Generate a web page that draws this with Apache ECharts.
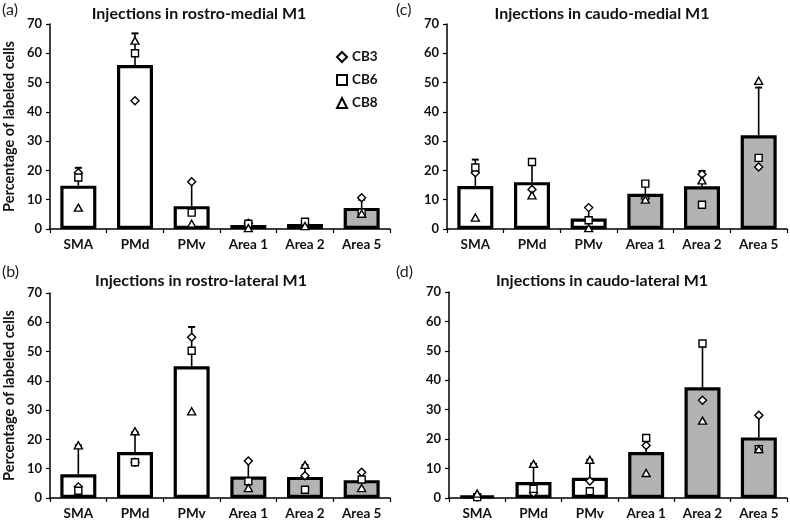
<!DOCTYPE html>
<html>
<head>
<meta charset="utf-8">
<script src="https://cdn.jsdelivr.net/npm/echarts@6/dist/echarts.min.js"></script>
<style>html,body{margin:0;padding:0;background:#fff;}#c{width:790px;height:522px;}</style>
</head>
<body>
<div id="c"></div>
<script>
const categories = ['SMA', 'PMd', 'PMv', 'Area 1', 'Area 2', 'Area 5'];
const yTicks = [0, 10, 20, 30, 40, 50, 60, 70];
const legendNames = ['CB3', 'CB6', 'CB8'];
const yAxisName = 'Percentage of labeled cells';

// (a) rostro-medial
const titleA = 'Injections in rostro-medial M1';
const meanA = [14.8, 56.0, 7.8, 1.4, 1.7, 7.2];
const sdA   = [6.1, 10.8, 8.2, 0.7, 0.5, 2.8];
const cb3A  = [19.2, 43.8, 16.1, 2.0, 1.6, 10.7];
const cb6A  = [17.6, 60.0, 5.6, 1.8, 2.5, 5.6];
const cb8A  = [7.3, 64.3, 1.8, 0.3, 1.0, 5.2];

// (b) rostro-lateral
const titleB = 'Injections in rostro-lateral M1';
const meanB = [8.1, 15.7, 45.0, 7.3, 7.2, 6.1];
const sdB   = [9.9, 6.8, 13.4, 5.3, 4.1, 2.7];
const cb3B  = [3.8, 12.2, 54.9, 12.6, 7.6, 8.8];
const cb6B  = [2.5, 12.2, 50.3, 5.7, 2.8, 6.3];
const cb8B  = [18.0, 22.8, 29.6, 3.4, 11.3, 3.4];

// (c) caudo-medial
const titleC = 'Injections in caudo-medial M1';
const meanC = [14.7, 16.0, 3.6, 12.0, 14.6, 32.0];
const sdC   = [9.0, 6.9, 3.7, 3.7, 5.2, 16.3];
const cb3C  = [19.2, 13.5, 7.3, 10.4, 18.7, 21.2];
const cb6C  = [21.0, 22.9, 3.0, 15.5, 8.3, 24.3];
const cb8C  = [3.9, 11.5, 0.3, 10.0, 16.6, 50.6];

// (d) caudo-lateral
const titleD = 'Injections in caudo-lateral M1';
const meanD = [0.7, 5.4, 6.9, 15.6, 37.6, 20.6];
const sdD   = [0.5, 6.2, 6.1, 5.1, 13.9, 7.1];
const cb3D  = [0.3, 1.7, 5.8, 17.8, 33.2, 28.1];
const cb6D  = [0.3, 3.1, 2.3, 20.4, 52.5, 16.6];
const cb8D  = [1.5, 11.6, 13.0, 8.5, 26.3, 16.6];

const FONT = 'Lato, "Open Sans", sans-serif';
const panels = [
  {letter: '(a)', title: titleA, mean: meanA, sd: sdA, cb: [cb3A, cb6A, cb8A], grid: {left: 50, top: 24, width: 340, height: 205}, lx: 2, ly: 2, tx: 194, ty: 1, yName: true},
  {letter: '(c)', title: titleC, mean: meanC, sd: sdC, cb: [cb3C, cb6C, cb8C], grid: {left: 447, top: 24, width: 340, height: 205}, lx: 396, ly: 2, tx: 597, ty: 1, yName: false},
  {letter: '(b)', title: titleB, mean: meanB, sd: sdB, cb: [cb3B, cb6B, cb8B], grid: {left: 50, top: 293, width: 340, height: 205}, lx: 2, ly: 264, tx: 196, ty: 268, yName: true},
  {letter: '(d)', title: titleD, mean: meanD, sd: sdD, cb: [cb3D, cb6D, cb8D], grid: {left: 449, top: 292, width: 338, height: 206}, lx: 396, ly: 264, tx: 597, ty: 268, yName: false}
];
const symbols = ['diamond', 'rect', 'triangle'];
const symSizes = [[8, 8], [7, 7], [8, 7]];

const grids = [], xAxes = [], yAxes = [], series = [], titles = [], graphics = [];
panels.forEach((p, k) => {
  grids.push(Object.assign({containLabel: false}, p.grid));
  xAxes.push({
    type: 'category', gridIndex: k, data: categories,
    axisLine: {lineStyle: {color: '#000', width: 1.5}},
    axisTick: {show: true, alignWithLabel: false, length: 4, lineStyle: {color: '#000', width: 1.2}},
    axisLabel: {color: '#111', fontFamily: FONT, fontWeight: 'bold', fontSize: 13.5, margin: 9, interval: 0}
  });
  yAxes.push({
    type: 'value', gridIndex: k, min: yTicks[0], max: yTicks[yTicks.length - 1], interval: 10,
    name: p.yName ? yAxisName : '', nameLocation: 'middle', nameGap: 33, nameRotate: 90,
    nameTextStyle: {color: '#111', fontFamily: FONT, fontWeight: 'bold', fontSize: 14.5},
    axisLine: {show: true, lineStyle: {color: '#000', width: 1.5}},
    axisTick: {show: true, length: 4, lineStyle: {color: '#000', width: 1.2}},
    splitLine: {show: false},
    axisLabel: {color: '#111', fontFamily: FONT, fontWeight: 'bold', fontSize: 13, margin: 8}
  });
  titles.push({text: p.title, left: p.tx, top: p.ty, textAlign: 'center',
    textStyle: {color: '#111', fontFamily: FONT, fontWeight: 'bold', fontSize: 16}});
  graphics.push({type: 'text', left: p.lx, top: p.ly,
    style: {text: p.letter, fill: '#222', font: '16px ' + FONT}});
  series.push({
    type: 'bar', xAxisIndex: k, yAxisIndex: k, barWidth: 36, z: 2,
    data: p.mean.map((v, i) => ({value: v, itemStyle: {color: i < 3 ? '#ffffff' : '#b3b3b3'}})),
    itemStyle: {borderColor: '#000', borderWidth: 3.2}
  });
  series.push({
    type: 'custom', xAxisIndex: k, yAxisIndex: k, z: 3,
    data: p.mean.map((v, i) => [i, v, p.sd[i]]),
    renderItem: function (params, api) {
      const x = api.value(0), m = api.value(1), s = api.value(2);
      const p0 = api.coord([x, m]);
      const p1 = api.coord([x, m + s]);
      return {type: 'group', children: [
        {type: 'line', shape: {x1: p0[0], y1: p0[1], x2: p1[0], y2: p1[1]}, style: {stroke: '#000', lineWidth: 1.6}},
        {type: 'line', shape: {x1: p1[0] - 3.5, y1: p1[1], x2: p1[0] + 3.5, y2: p1[1]}, style: {stroke: '#000', lineWidth: 2}}
      ]};
    }
  });
  p.cb.forEach((arr, j) => {
    series.push({
      type: 'scatter', name: legendNames[j], xAxisIndex: k, yAxisIndex: k, z: 4,
      symbol: symbols[j], symbolSize: symSizes[j],
      itemStyle: {color: '#fff', borderColor: '#000', borderWidth: 1.4, opacity: 1},
      data: arr.map((v, i) => [i, v])
    });
  });
});

const chart = echarts.init(document.getElementById('c'), null, {renderer: 'canvas'});
chart.setOption({
  animation: false,
  backgroundColor: '#fff',
  title: titles,
  graphic: graphics,
  grid: grids,
  xAxis: xAxes,
  yAxis: yAxes,
  legend: {
    data: legendNames, orient: 'vertical', left: 331, top: 45,
    itemWidth: 10, itemHeight: 10, itemGap: 9, selectedMode: false,
    textStyle: {color: '#111', fontFamily: FONT, fontWeight: 'bold', fontSize: 13.5}
  },
  series: series
});
</script>
</body>
</html>
